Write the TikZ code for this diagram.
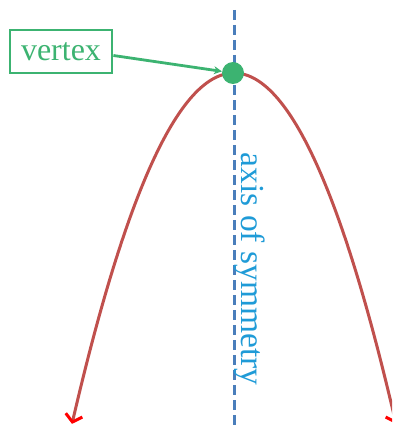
\documentclass[tikz,border=0pt]{standalone}
\usepackage{fontspec}
\setmainfont{Liberation Serif}
\usetikzlibrary{arrows.meta}
\definecolor{vgreen}{RGB}{60,179,113}
\definecolor{axblue}{RGB}{74,126,187}
\definecolor{txblue}{RGB}{31,155,215}
\definecolor{crvred}{RGB}{192,80,77}
\begin{document}
\begin{tikzpicture}[x=1pt,y=-1pt,
 every node/.style={font=\fontsize{32}{38}\selectfont},
 vertex/.style={circle,fill=vgreen,inner sep=0pt,minimum size=22pt},
 labelbox/.style={draw=vgreen,line width=2.8pt,text=vgreen,minimum width=102pt,minimum height=43pt,inner sep=0pt},
 axis/.style={axblue,line width=3pt,dash pattern=on 10pt off 5pt},
 curve/.style={crvred,line width=3pt,-{Straight Barb[red,length=7pt,width=17pt,line width=3pt]}}]
\useasboundingbox (0,0) rectangle (392,428);
\clip (0,0) rectangle (392,428);
\coordinate (axtop) at (234,10);
\coordinate (axbot) at (234,428);
\draw[axis] (axtop) -- (axbot);
\draw[curve,domain=0:-16.2,samples=60] plot ({234+10*\x},{73+1.337*\x*\x});
\draw[curve,domain=0:16.2,samples=60] plot ({234+10*\x},{73+1.337*\x*\x});
\node[vertex] (v) at (233,73) {};
\node[labelbox] (vlabel) at (61,51.5) {vertex};
\draw[vgreen,line width=2.8pt,-{Stealth[length=8pt,width=8pt]}] ([yshift=-4pt]vlabel.east) -- (v);
\node[text=txblue,rotate=-90,font=\fontsize{33.5}{40}\selectfont] (axlabel) at (250,269) {axis of symmetry};
\end{tikzpicture}
\end{document}
